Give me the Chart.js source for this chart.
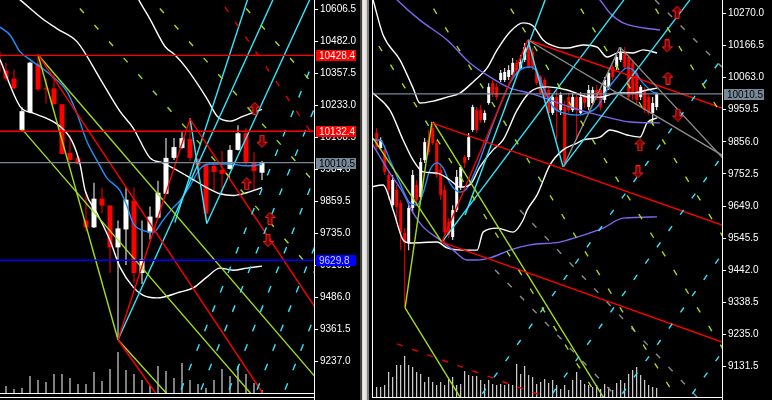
<!DOCTYPE html>
<html>
<head>
<meta charset="utf-8">
<script src="https://cdn.jsdelivr.net/npm/chart.js@4.4.1/dist/chart.umd.min.js"></script>
<style>
  html, body { margin: 0; padding: 0; background: #000; width: 772px; height: 400px; overflow: hidden; }
  #left { position: absolute; left: 0; top: 0; }
  #right { position: absolute; left: 369px; top: 0; }
  #sep { position: absolute; left: 360px; top: 0; width: 9px; height: 400px;
         background: linear-gradient(to right, #404040 0, #404040 2px, #d4d0c8 2px, #f4f4f4 4px, #d4d0c8 7px, #808080 7px, #808080 9px); }
</style>
</head>
<body>
<canvas id="left" width="360" height="400"></canvas>
<div id="sep"></div>
<canvas id="right" width="403" height="400"></canvas>
<script>
// ---- left panel (daily-ish) ----
const leftTicks = [10606.5, 10482.0, 10357.5, 10233.0, 10108.5, 9984.0, 9859.5, 9735.0, 9610.5, 9486.0, 9361.5, 9237.0];
const leftIdx = Array.from({ length: 34 }, (_, i) => i - 1);
const leftOpen  = [10443,10369,10338,10137,10207,10396,10300,10300,10238,10048,10029,9785,9758,9870,9843,9680,9750,9862,9580,9738,9796,9889,10029,10067,10102,10025,10005,9998,9982,9986,10060,10125,10013,9971];
const leftHigh  = [10462,10400,10373,10226,10404,10431,10338,10358,10240,10118,10036,9893,9932,9913,9845,9785,9913,9913,9785,9839,9940,10106,10106,10129,10183,10027,10007,10009,10056,10079,10156,10145,10052,10017];
const leftLow   = [10358,10330,10296,10133,10203,10288,10241,10236,10042,10001,10003,9742,9756,9812,9580,9320,9611,9541,9537,9711,9794,9887,10021,10065,10017,9947,9785,9901,9882,9984,10058,9998,9905,9943];
const leftClose = [10365,10338,10300,10211,10400,10296,10296,10238,10044,10021,10005,9758,9870,9843,9680,9754,9866,9580,9634,9800,9893,10029,10071,10106,10029,9998,9812,9974,9967,10060,10125,10013,9978,10010.5];
const leftVolume = [null,70,40,50,170,130,110,190,190,150,90,90,210,120,240,410,230,190,130,70,270,220,150,300,130,90,50,130,240,170,270,190,100,30];

const leftUpperBand = [[16.1,10675],[16.75,10636],[18,10570],[19.9,10462],[21.1,10431],[22.6,10377],[25.1,10261],[26.4,10191],[28,10172],[29.6,10191],[32,10218]];
const leftSlowBand = [[0,10690],[2.1,10636],[4.6,10570],[6.4,10532],[8.9,10481],[11.75,10338],[14.25,10210],[15.9,10145],[18,10029],[19.6,10009],[22.6,9959],[25.1,9913],[26.75,9889],[28.4,9882],[30.1,9893],[32,9913]];
const leftLowerBand = [[-0.75,10412],[1.75,10230],[3.4,10203],[5.1,10183],[6.75,10152],[8.25,10094],[9.25,10005],[9.9,9901],[11.4,9812],[13,9707],[14.25,9603],[15.9,9525],[17.1,9494],[18.9,9483],[21.75,9506],[23.4,9522],[25.1,9564],[26.75,9599],[28.4,9591],[30.1,9599],[32,9607]];
const leftBlueMA = [[-0.75,10539],[0.5,10508],[1.75,10443],[3,10412],[5.5,10354],[7.6,10288],[8.9,10199],[10.1,10094],[11.4,10017],[12.6,9951],[14.25,9901],[15.1,9843],[15.9,9773],[17.1,9746],[18.4,9738],[19.6,9785],[20.9,9835],[21.75,9862],[23,9920],[24.25,9986],[25.5,10005],[28,10005],[29.9,9998],[30.9,9998],[32,10005]];

const leftRedLines = [[[4,10431],[33,9069]], [[23,10180],[40.5,9359]], [[14,9320],[23,10180]], [[14,9320],[19.25,9088]]];
const leftRedDashed = [[[26.1,10675],[40.5,10021]]];
const leftGreenLines = [[[4,10431],[14,9320]], [[4,10431],[40.5,9108]], [[2,10141],[31.75,9069]], [[14,9320],[20.5,9096]]];
const leftCyanLines = [[[14,9320],[33.8,10675]], [[23,10183],[25.1,9773]], [[25.1,9773],[38.4,10675]], [[21.1,9777],[30.5,10675]]];
const leftCyanDashed = [[[20.9,9049],[41.9,10675]], [[23.4,9049],[44.4,10675]], [[26.9,9049],[47.9,10675]], [[30.4,9049],[51.4,10675]], [[33.9,9049],[54.9,10675]]];
const leftGreenDashed = [[[7.4,10675],[53.75,9049]], [[17.4,10675],[63.75,9049]], [[28.2,10675],[74.5,9049]]];
const leftLevels = [10428.4, 10132.4, 10010.5, 9629.8];
const leftArrowsUp = [[31.1,10222],[30.1,9928],[33,9793]];
const leftArrowsDown = [[32,10094],[32.75,9707]];

// ---- right panel (intraday) ----
const rightTicks = [10270.0, 10166.5, 10063.0, 9959.5, 9856.0, 9752.5, 9649.0, 9545.5, 9442.0, 9338.5, 9235.0, 9131.5];
const rightIdx = Array.from({ length: 71 }, (_, i) => i);
const rightOpen  = [9884,9836,9830,9749,9652,9701,9659,9562,9530,9643,9717,9678,9797,9862,9900,9852,9765,9701,9598,9549,9636,9710,9807,9807,9894,9958,9958,9926,9981,10045,10033,10055,10055,10065,10071,10110,10094,10120,10165,10145,10087,10065,10055,10023,9949,10000,9958,9968,10000,9958,10000,9949,10000,9968,9981,10023,10023,9991,10033,10097,10097,10120,10142,10129,10110,10078,10000,10023,10000,9949,9968];
const rightHigh  = [9900,9871,9846,9765,9749,9717,9669,9578,9652,9765,9733,9804,9868,9894,9920,9862,9781,9717,9610,9652,9765,9781,9813,9884,9975,9968,9975,9958,10045,10055,10045,10087,10094,10103,10126,10120,10136,10174,10184,10158,10094,10071,10062,10029,10007,10023,10016,9991,10013,10013,10007,10016,10013,10039,10033,10039,10029,10065,10087,10103,10136,10161,10161,10136,10120,10087,10039,10033,10007,10000,10013];
const rightLow   = [9830,9830,9749,9669,9643,9594,9507,9324,9507,9630,9652,9669,9788,9813,9846,9739,9669,9533,9546,9540,9630,9701,9772,9797,9888,9884,9917,9917,9975,10000,9991,10049,10049,10055,10065,10071,10087,10113,10094,10087,10039,10007,9991,9942,9942,9862,9942,9775,9949,9952,9862,9942,9965,9958,9975,9991,9958,9981,10023,10055,10087,10113,10087,9991,9991,9975,9991,9949,9942,9910,9958];
const rightClose = [9839,9862,9759,9701,9733,9646,9562,9530,9643,9749,9669,9791,9855,9823,9852,9749,9685,9565,9556,9636,9743,9775,9788,9871,9968,9894,9926,9949,10033,10013,10000,10078,10081,10087,10110,10087,10113,10161,10097,10097,10045,10013,10000,9949,10000,9958,10007,9788,9958,10000,9958,10000,9981,10023,10023,10000,9968,10055,10078,10065,10129,10142,10097,10000,10013,9991,10033,9958,9949,9981,10010.5];
const rightVolume = [100,100,120,250,200,320,320,410,320,300,250,230,150,200,150,120,150,120,180,200,120,130,260,220,210,210,170,130,170,130,120,130,120,130,120,330,230,310,220,200,130,150,180,140,170,120,80,120,70,170,250,170,130,120,100,120,80,130,100,70,140,170,140,230,270,300,220,170,120,100,90];

const rightSlowMA = [[3.3,10338],[5.1,10313],[10.8,10248],[17.6,10184],[23.3,10110],[28.3,10065],[33.3,10029],[38.3,10013],[43.3,9991],[48.3,9968],[53.3,9949],[58.3,9933],[63.3,9920],[70.8,9917]];
const rightSlowUpper = [[53.3,10339],[55.8,10313],[58.3,10271],[61.6,10239],[70.8,10216]];
const rightSlowLower = [[-1.7,9862],[3.3,9755],[6.6,9691],[9.1,9627],[11.6,9582],[15.8,9540],[19.1,9507],[22.6,9475],[25.1,9475],[28.3,9482],[33.3,9507],[38.3,9524],[45.8,9533],[50.1,9549],[56.6,9578],[61.6,9610],[70.1,9614]];
const rightBlueMA = [[-0.9,9862],[0.8,9862],[3.3,9797],[5.8,9723],[8.3,9659],[10.1,9652],[11.6,9691],[13.3,9765],[15.1,9788],[16.6,9772],[18.3,9723],[20.8,9694],[22.6,9707],[25.1,9775],[27.6,9862],[30.1,9949],[33.3,10045],[35.8,10087],[38.3,10097],[40.1,10081],[41.6,10033],[44.1,9968],[46.6,9949],[50.1,9942],[52.6,9949],[55.1,9968],[57.6,10023],[60.1,10065],[62.6,10094],[64.1,10087],[66.6,10045],[69.1,10016],[70.3,10013]];
const rightUpperBand = [[-0.9,10313],[1.6,10200],[5.8,10120],[9.1,10029],[10.8,9981],[14.1,9987],[17.6,10000],[20.8,10013],[24.1,10049],[27.6,10094],[30.1,10152],[33.3,10210],[36.6,10239],[39.1,10229],[41.6,10184],[45.1,10161],[47.6,10158],[51.6,10168],[55.1,10161],[57.6,10129],[60.8,10145],[64.1,10142],[66.6,10152],[70.1,10142]];
const rightMidBand = [[-0.9,10013],[3.3,9958],[6.6,9862],[9.1,9797],[11.6,9759],[15.1,9755],[18.3,9733],[20.8,9710],[23.3,9717],[25.8,9775],[29.1,9830],[31.6,9862],[35.1,9958],[38.3,10016],[42.6,10033],[47.6,10023],[53.3,10000],[55.8,10000],[60.1,10013],[64.1,10013],[67.6,10023],[70.1,10029]];
const rightLowerBand = [[-1.7,9710],[1.6,9717],[4.1,9636],[6.6,9540],[8.3,9530],[15.1,9533],[17.6,9514],[21.6,9507],[25.1,9507],[26.6,9565],[30.1,9578],[34.1,9565],[36.6,9604],[37.6,9636],[40.1,9685],[43.3,9781],[46.6,9830],[50.1,9852],[51.6,9862],[55.8,9871],[58.3,9894],[62.6,9878],[65.8,9871],[67.6,9917],[70.1,9933]];

const rightRedLines = [[[37.8,10184],[90.8,9945]], [[13.8,9917],[90,9571]], [[16.3,9533],[90,9194]], [[16.3,9533],[37.8,10184]]];
const rightRedDashed = [[[5.1,9205],[45.8,9018]]];
const rightGreenLines = [[[7.1,9321],[13.8,9920]], [[7.1,9321],[23.3,8982]], [[14.1,9920],[57.1,9024]], [[-0.9,9868],[16.3,9533]]];
const rightCyanLines = [[[16.3,9533],[61.8,10313]], [[37.8,10184],[46.6,9775]], [[46.6,9775],[78.3,10313]], [[22.1,9620],[42.1,10313]]];
const rightGrayLines = [[[37.8,10184],[90,9785]], [[46.6,9775],[60.8,10161]], [[60.8,10161],[90,9755]]];
const rightGreenDashed = [[[-8.2,10345],[57.3,8992]], [[11.3,10345],[76.8,8992]], [[30.6,10345],[96.1,8992]], [[48.1,10345],[113.6,8992]], [[66.8,10345],[132.3,8992]]];
const rightCyanDashed = [[[23.5,8992],[98.5,10345]], [[41,8992],[116,10345]], [[58.5,8992],[133.5,10345]], [[76,8992],[151,10345]]];
const rightGrayDashed = [[[29.6,9443],[60.8,9024]], [[35.8,9636],[80.8,9024]], [[69.6,10313],[86.3,10097]]];
const rightLevels = [10010.5];
const rightArrowsUp = [[75.1,10274],[72.8,10061],[65.8,9846]];
const rightArrowsDown = [[72.6,10165],[75.3,9942],[65.3,9759]];

// ---- helpers ----
const RED = '#ff0000', GREEN = '#a4dc1c', CYAN = '#30e8ff', GRAY = '#8a8a8a';
const FONT = { family: 'Liberation Sans', size: 10 };
const LW = 1.4;

function candles(idx, o, h, l, c, width) {
  const col = idx.map((_, i) => c[i] >= o[i] ? '#ffffff' : RED);
  return [
    { type: 'bar', yAxisID: 'y', grouped: false, order: 14, barThickness: width, inflateAmount: 0,
      backgroundColor: col, data: idx.map((x, i) => ({ x, y: [o[i], c[i]] })) },
    { type: 'bar', yAxisID: 'y', grouped: false, order: 15, barThickness: 1, inflateAmount: 0,
      backgroundColor: col, data: idx.map((x, i) => ({ x, y: [l[i], h[i]] })) }
  ];
}

function volumes(idx, v) {
  return { type: 'bar', yAxisID: 'vol', grouped: false, order: 20, barThickness: 1, inflateAmount: 0,
    backgroundColor: '#ffffff', data: idx.map((x, i) => ({ x, y: v[i] })).filter(p => p.y != null) };
}

function curve(pts, color) {
  return { type: 'line', yAxisID: 'y', order: 10, borderColor: color, borderWidth: LW, pointRadius: 0,
    cubicInterpolationMode: 'monotone', data: pts.map(p => ({ x: p[0], y: p[1] })) };
}

function lines(list, color, dash) {
  return list.map(pts => ({ type: 'line', yAxisID: 'y', order: 8, borderColor: color, borderWidth: LW,
    borderDash: dash || [], pointRadius: 0, data: pts.map(p => ({ x: p[0], y: p[1] })) }));
}

function level(v, color, xmin, xmax) {
  return { type: 'line', yAxisID: 'y', order: 6, borderColor: color, borderWidth: LW, pointRadius: 0,
    data: [{ x: xmin, y: v }, { x: xmax, y: v }] };
}

function arrowImg(up) {
  const c = document.createElement('canvas');
  c.width = 11; c.height = 13;
  const g = c.getContext('2d');
  g.beginPath();
  if (up) {
    g.moveTo(5.5, 0.5); g.lineTo(10.5, 5.5); g.lineTo(7.5, 5.5); g.lineTo(7.5, 12.5);
    g.lineTo(3.5, 12.5); g.lineTo(3.5, 5.5); g.lineTo(0.5, 5.5);
  } else {
    g.moveTo(5.5, 12.5); g.lineTo(10.5, 7.5); g.lineTo(7.5, 7.5); g.lineTo(7.5, 0.5);
    g.lineTo(3.5, 0.5); g.lineTo(3.5, 7.5); g.lineTo(0.5, 7.5);
  }
  g.closePath();
  g.fillStyle = '#6a0000'; g.fill();
  g.strokeStyle = '#ff2020'; g.lineWidth = 1; g.stroke();
  return c;
}

function arrows(pts, up) {
  return { type: 'scatter', yAxisID: 'y', order: 1, pointStyle: arrowImg(up), pointRadius: 6,
    data: pts.map(p => ({ x: p[0], y: p[1] })) };
}

// price tags on the axis
const tagPlugin = {
  id: 'tags',
  afterDraw(chart, args, opts) {
    const ctx = chart.ctx, y = chart.scales.y, a = chart.chartArea;
    ctx.save();
    ctx.font = FONT.size + 'px "' + FONT.family + '"';
    ctx.textBaseline = 'middle';
    (opts.items || []).forEach(t => {
      const py = Math.round(y.getPixelForValue(t.value));
      ctx.fillStyle = t.bg;
      ctx.fillRect(a.right + 2, py - 5, 40, 11);
      ctx.fillStyle = t.fg;
      ctx.fillText(t.value.toFixed(1), a.right + 5, py + 1);
    });
    ctx.restore();
  }
};

// panel frame lines
const framePlugin = {
  id: 'frame',
  afterDraw(chart, args, opts) {
    const ctx = chart.ctx, a = chart.chartArea;
    ctx.save();
    ctx.strokeStyle = '#ffffff';
    ctx.lineWidth = 1;
    ctx.beginPath();
    (opts.bottoms || [0]).forEach(d => {
      ctx.moveTo(opts.left ? a.left - 1 : 0, a.bottom + d + 0.5);
      ctx.lineTo(a.right, a.bottom + d + 0.5);
    });
    ctx.moveTo(a.right + 0.5, 0); ctx.lineTo(a.right + 0.5, chart.height);
    if (opts.left) { ctx.moveTo(a.left - 0.5, 0); ctx.lineTo(a.left - 0.5, a.bottom + 1); }
    ctx.stroke();
    ctx.restore();
  }
};

function priceAxis(ticks, min, max, width) {
  return {
    position: 'right', min, max,
    afterBuildTicks: s => { s.ticks = ticks.map(v => ({ value: v })); },
    afterFit: s => { s.width = width; s.paddingTop = 0; s.paddingBottom = 0; },
    ticks: { color: '#ffffff', font: FONT, padding: 2, autoSkip: false, callback: v => Number(v).toFixed(1) },
    grid: { display: true, drawOnChartArea: false, drawTicks: true, tickLength: 4, tickColor: '#ffffff', color: '#ffffff' },
    border: { display: true, color: '#ffffff' }
  };
}

function baseOptions(xmin, xmax, yAxis, volMax, padding, tags, frame) {
  return {
    responsive: false, animation: false, events: [],
    layout: { padding, autoPadding: false },
    plugins: { legend: { display: false }, tooltip: { enabled: false }, tags: { items: tags }, frame },
    scales: {
      x: { type: 'linear', min: xmin, max: xmax, offset: false, display: false },
      y: yAxis,
      vol: { type: 'linear', axis: 'y', display: false, min: 0, max: volMax }
    }
  };
}

// ---- left chart ----
const lxMin = -0.75, lxMax = 38.5;
new Chart(document.getElementById('left'), {
  type: 'bar',
  data: {
    datasets: [
      volumes(leftIdx, leftVolume),
      ...candles(leftIdx, leftOpen, leftHigh, leftLow, leftClose, 5),
      curve(leftUpperBand, '#ffffff'),
      curve(leftSlowBand, '#ffffff'),
      curve(leftLowerBand, '#ffffff'),
      curve(leftBlueMA, '#1e90ff'),
      ...lines(leftGreenDashed, GREEN, [6, 16]),
      ...lines(leftCyanDashed, CYAN, [7, 14]),
      ...lines(leftRedDashed, '#e00000', [6, 12]),
      ...lines(leftRedLines, RED),
      ...lines(leftGreenLines, GREEN),
      ...lines(leftCyanLines, CYAN),
      level(leftLevels[0], RED, lxMin, lxMax),
      level(leftLevels[1], RED, lxMin, lxMax),
      level(leftLevels[2], '#778899', lxMin, lxMax),
      level(leftLevels[3], '#0000ff', lxMin, lxMax),
      arrows(leftArrowsUp, true),
      arrows(leftArrowsDown, false)
    ]
  },
  options: baseOptions(lxMin, lxMax, priceAxis(leftTicks, 9112.4, 10644.3, 46), 3930,
    { left: 0, right: 0, top: 0, bottom: 7 },
    [
      { value: leftLevels[0], bg: RED, fg: '#ffffff' },
      { value: leftLevels[1], bg: RED, fg: '#ffffff' },
      { value: leftLevels[2], bg: '#778899', fg: '#000000' },
      { value: leftLevels[3], bg: '#0000ff', fg: '#d0d0d0' }
    ],
    { bottoms: [0, 4], left: false }),
  plugins: [tagPlugin, framePlugin]
});

// ---- right chart ----
const rxMin = -0.925, rxMax = 86.325;
new Chart(document.getElementById('right'), {
  type: 'bar',
  data: {
    datasets: [
      volumes(rightIdx, rightVolume),
      ...candles(rightIdx, rightOpen, rightHigh, rightLow, rightClose, 3),
      curve(rightSlowMA, '#7b68ee'),
      curve(rightSlowUpper, '#7b68ee'),
      curve(rightSlowLower, '#7b68ee'),
      curve(rightUpperBand, '#ffffff'),
      curve(rightMidBand, '#ffffff'),
      curve(rightLowerBand, '#ffffff'),
      curve(rightBlueMA, '#1e90ff'),
      ...lines(rightGreenDashed, GREEN, [6, 16]),
      ...lines(rightCyanDashed, CYAN, [6, 14]),
      ...lines(rightGrayDashed, GRAY, [6, 12]),
      ...lines(rightRedDashed, '#e00000', [6, 10]),
      ...lines(rightGrayLines, GRAY),
      ...lines(rightRedLines, RED),
      ...lines(rightGreenLines, GREEN),
      ...lines(rightCyanLines, CYAN),
      level(rightLevels[0], '#778899', rxMin, rxMax),
      arrows(rightArrowsUp, true),
      arrows(rightArrowsDown, false)
    ]
  },
  options: baseOptions(rxMin, rxMax, priceAxis(rightTicks, 9033.9, 10312.8, 50), 3970,
    { left: 4, right: 0, top: 0, bottom: 3 },
    [ { value: rightLevels[0], bg: '#778899', fg: '#000000' } ],
    { bottoms: [0], left: true }),
  plugins: [tagPlugin, framePlugin]
});
</script>
</body>
</html>
